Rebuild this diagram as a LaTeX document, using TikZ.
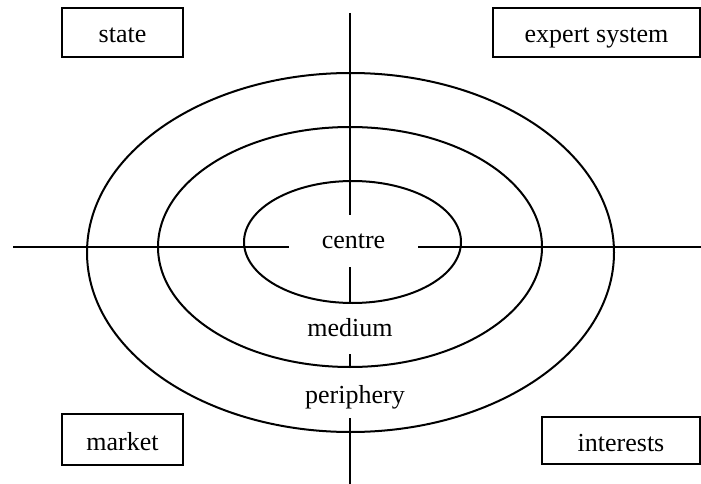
\documentclass[tikz,border=0pt]{standalone}
\usepackage{fontspec}
\setmainfont{Liberation Serif}

\begin{document}
\begin{tikzpicture}[x=1pt, y=-1pt, line width=2pt,
    every node/.style={font=\fontsize{26}{30}\selectfont},
    box/.style={draw, line width=2.2pt, inner sep=0pt, text height=21pt, text depth=0pt},
    gap/.style={inner sep=0pt}]
  \useasboundingbox (0,0) rectangle (701,484);
  % corner boxes
  \node [box, minimum width=121pt, minimum height=49pt] (state) at (122.5,32.5) {state};
  \node [box, minimum width=207pt, minimum height=49pt] (expert) at (596.5,32.5) {expert system};
  \node [box, minimum width=121pt, minimum height=51pt] (market) at (122.5,439.5) {market};
  \node [box, minimum width=158pt, minimum height=47pt] (interests) at (621,440.5) {interests};
  % rings
  \draw (350.5,252.5) ellipse [x radius=263.5, y radius=179.5];
  \draw (350,247) ellipse [x radius=192, y radius=120];
  \draw (352.5,242) ellipse [x radius=108.5, y radius=61];
  % ring labels
  \node [gap, minimum width=127pt, minimum height=50pt] (centre) at (353.5,241) {centre};
  \node [gap, minimum height=50pt] (medium) at (350,328) {medium};
  \node [gap, minimum height=40pt] (periphery) at (355,397) {periphery};
  % axes
  \coordinate (N) at (350,13);
  \coordinate (S) at (350,484);
  \coordinate (W) at (13,247);
  \coordinate (E) at (701,247);
  \coordinate (inner-s) at (350,303);
  \coordinate (mid-s) at (350,367);
  \draw (N) -- (N |- centre.north);
  \draw (N |- centre.south) -- (inner-s);
  \draw (N |- medium.south) -- (mid-s);
  \draw (N |- periphery.south) -- (S);
  \draw (W) -- (centre.west |- W);
  \draw (centre.east |- E) -- (E);
\end{tikzpicture}
\end{document}
